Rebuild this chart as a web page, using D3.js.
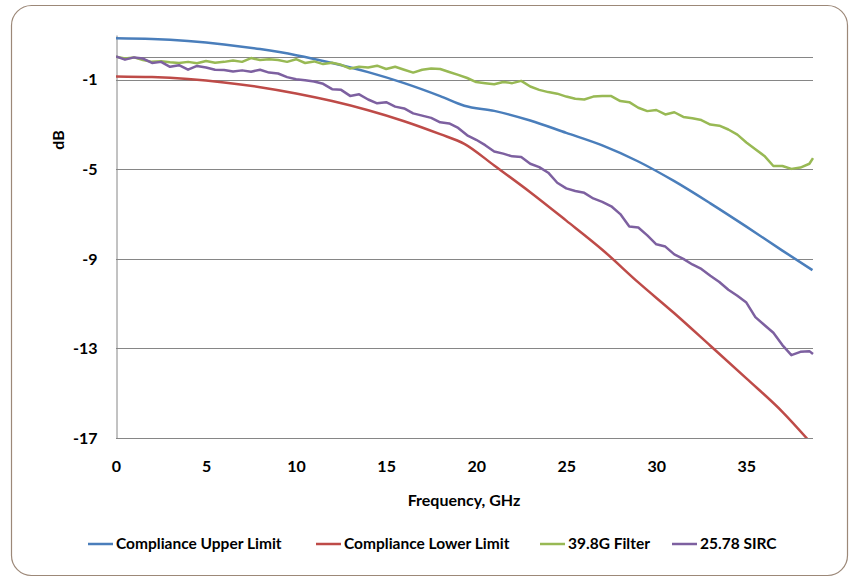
<!DOCTYPE html>
<html>
<head>
<meta charset="utf-8">
<script src="https://cdn.jsdelivr.net/npm/d3@7"></script>
<style>
  body { margin: 0; background: #fff; }
  text { font-family: Lato, "Open Sans", sans-serif; font-weight: 700; fill: #000; }
</style>
</head>
<body>
<div id="chart"></div>
<script>
// Compliance limits (dB) vs frequency (GHz)
const limitFreq = [0, 2, 4, 6, 8, 10, 12, 14, 16, 18, 19.34, 21, 23, 25, 27, 29, 31, 33, 35, 37, 38.67];
const upperDb = [0.85, 0.82, 0.73, 0.58, 0.37, 0.1, -0.25, -0.66, -1.15, -1.73, -2.16, -2.39, -2.82, -3.37, -3.93, -4.65, -5.53, -6.52, -7.56, -8.63, -9.5];
const lowerDb = [-0.85, -0.88, -0.97, -1.12, -1.33, -1.61, -1.95, -2.36, -2.85, -3.43, -3.86, -4.83, -6.02, -7.29, -8.59, -10.05, -11.43, -12.88, -14.34, -15.83, -17.3];

// Measured responses, sampled every 0.5 GHz
const measFreq = [0, 0.5, 1, 1.5, 2, 2.5, 3, 3.5, 4, 4.5, 5, 5.5, 6, 6.5, 7, 7.5, 8, 8.5, 9, 9.5,
  10, 10.5, 11, 11.5, 12, 12.5, 13, 13.5, 14, 14.5, 15, 15.5, 16, 16.5, 17, 17.5, 18, 18.5, 19, 19.5,
  20, 20.5, 21, 21.5, 22, 22.5, 23, 23.5, 24, 24.5, 25, 25.5, 26, 26.5, 27, 27.5, 28, 28.5, 29, 29.5,
  30, 30.5, 31, 31.5, 32, 32.5, 33, 33.5, 34, 34.5, 35, 35.5, 36, 36.5, 37, 37.5, 38, 38.5, 38.7];
const filterDb = [0.03, -0.05, 0, -0.12, -0.2, -0.17, -0.22, -0.25, -0.2, -0.26, -0.16, -0.24, -0.2, -0.14, -0.2, -0.03, -0.12, -0.08, -0.12, -0.2,
  -0.08, -0.25, -0.18, -0.3, -0.24, -0.33, -0.5, -0.42, -0.45, -0.37, -0.52, -0.42, -0.55, -0.68, -0.55, -0.5, -0.52, -0.65, -0.78, -0.92,
  -1.1, -1.15, -1.2, -1.1, -1.15, -1.05, -1.3, -1.45, -1.55, -1.62, -1.75, -1.85, -1.88, -1.75, -1.72, -1.73, -1.95, -2.0, -2.25, -2.4,
  -2.35, -2.55, -2.45, -2.66, -2.72, -2.8, -3.0, -3.05, -3.22, -3.45, -3.8, -4.1, -4.4, -4.85, -4.85, -4.98, -4.92, -4.75, -4.5];
const sircDb = [0.04, -0.1, 0, -0.05, -0.25, -0.2, -0.42, -0.35, -0.55, -0.38, -0.45, -0.55, -0.56, -0.63, -0.58, -0.64, -0.55, -0.68, -0.72, -0.88,
  -0.98, -1.02, -1.08, -1.18, -1.42, -1.45, -1.72, -1.65, -1.88, -2.05, -2.0, -2.2, -2.28, -2.5, -2.6, -2.7, -2.9, -2.95, -3.15, -3.48,
  -3.68, -3.92, -4.2, -4.3, -4.42, -4.45, -4.75, -4.9, -5.15, -5.6, -5.85, -5.97, -6.05, -6.3, -6.45, -6.65, -7.0, -7.55, -7.6, -7.95,
  -8.35, -8.45, -8.8, -9.0, -9.25, -9.45, -9.75, -10.03, -10.38, -10.65, -10.95, -11.6, -11.95, -12.3, -12.85, -13.3, -13.15, -13.12, -13.25];

const seriesNames = ["Compliance Upper Limit", "Compliance Lower Limit", "39.8G Filter", "25.78 SIRC"];
const seriesColors = ["#4a7ebb", "#be4b48", "#98b954", "#7d60a0"];

const xTicks = [0, 5, 10, 15, 20, 25, 30, 35];
const yTicks = [-17, -13, -9, -5, -1];
const refLevel = 0;

function draw() {
  const dimensions = {
    width: 857,
    height: 579,
    left: 116,
    right: 813,
    top: 35,
    bottom: 438,
  };

  const svg = d3
    .select("#chart")
    .append("svg")
    .attr("width", dimensions.width)
    .attr("height", dimensions.height);

  // Outer frame
  svg
    .append("rect")
    .attr("x", 11.5)
    .attr("y", 5.5)
    .attr("width", 836)
    .attr("height", 570)
    .attr("rx", 20)
    .attr("fill", "#fff")
    .attr("stroke", "#9c8878")
    .attr("stroke-width", 1.2);

  // Scales
  const xScale = d3.scaleLinear().domain([0, 38.7]).range([dimensions.left, dimensions.right]);
  const yScale = d3.scaleLinear().domain([-17, 1]).range([dimensions.bottom, dimensions.top]);

  // Gridlines + 0 dB reference
  svg
    .append("g")
    .selectAll("line")
    .data(yTicks.concat([refLevel]))
    .join("line")
    .attr("x1", dimensions.left)
    .attr("x2", dimensions.right)
    .attr("y1", (d) => Math.round(yScale(d)) + 0.5)
    .attr("y2", (d) => Math.round(yScale(d)) + 0.5)
    .attr("stroke", "#868686")
    .attr("stroke-width", 1);

  // Axes (plain hyphen for negatives)
  const yAxis = d3
    .axisLeft(yScale)
    .tickValues(yTicks)
    .tickFormat((d) => String(d))
    .tickSize(0)
    .tickPadding(19);
  const yAxisGroup = svg
    .append("g")
    .attr("transform", `translate(${dimensions.left + 0.5},0)`)
    .call(yAxis);
  yAxisGroup.select(".domain").attr("stroke", "#868686");
  yAxisGroup.selectAll("text").style("font-size", "16px");

  const xAxis = d3.axisBottom(xScale).tickValues(xTicks).tickSize(0).tickPadding(23);
  const xAxisGroup = svg
    .append("g")
    .attr("transform", `translate(0,${dimensions.bottom})`)
    .call(xAxis);
  xAxisGroup.select(".domain").remove();
  xAxisGroup.selectAll("text").style("font-size", "16px");

  // Axis titles
  svg
    .append("text")
    .attr("x", 464)
    .attr("y", 506)
    .attr("text-anchor", "middle")
    .style("font-size", "16px")
    .text("Frequency, GHz");

  svg
    .append("text")
    .attr("transform", "translate(64,140) rotate(-90)")
    .attr("text-anchor", "middle")
    .style("font-size", "16px")
    .text("dB");

  // Series
  svg
    .append("clipPath")
    .attr("id", "plot-clip")
    .append("rect")
    .attr("x", dimensions.left)
    .attr("y", dimensions.top)
    .attr("width", dimensions.right - dimensions.left + 2)
    .attr("height", dimensions.bottom - dimensions.top);

  const series = [
    { freq: limitFreq, db: upperDb, curve: d3.curveMonotoneX },
    { freq: limitFreq, db: lowerDb, curve: d3.curveMonotoneX },
    { freq: measFreq, db: filterDb, curve: d3.curveLinear },
    { freq: measFreq, db: sircDb, curve: d3.curveLinear },
  ];

  const plot = svg.append("g").attr("clip-path", "url(#plot-clip)");
  series.forEach((s, i) => {
    const line = d3
      .line()
      .x((d, j) => xScale(s.freq[j]))
      .y((d) => yScale(d))
      .curve(s.curve);
    plot
      .append("path")
      .attr("d", line(s.db))
      .attr("fill", "none")
      .attr("stroke", seriesColors[i])
      .attr("stroke-width", 2.5)
      .attr("stroke-linejoin", "round");
  });

  // Legend
  const legendX = [88, 316, 540, 672];
  const legend = svg
    .append("g")
    .selectAll("g")
    .data(seriesNames)
    .join("g")
    .attr("transform", (d, i) => `translate(${legendX[i]},544)`);
  legend
    .append("line")
    .attr("x1", 0)
    .attr("x2", 25)
    .attr("stroke", (d, i) => seriesColors[i])
    .attr("stroke-width", 2.5);
  legend
    .append("text")
    .attr("x", 28)
    .attr("dy", "0.35em")
    .style("font-size", "15.5px")
    .text((d) => d);
}

draw();
</script>
</body>
</html>
